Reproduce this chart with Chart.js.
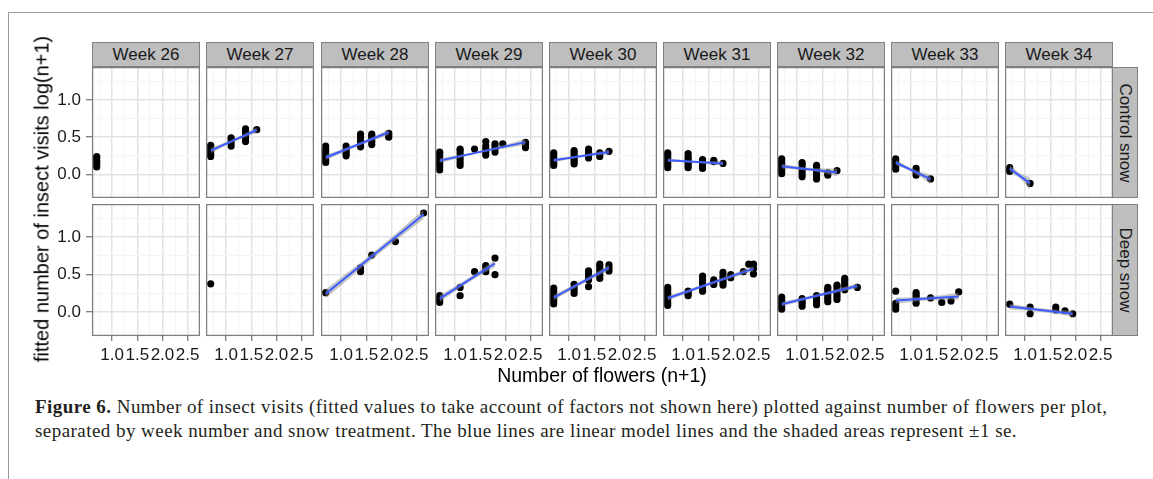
<html>
<head>
<meta charset="utf-8">
<script src="https://cdn.jsdelivr.net/npm/chart.js"></script>
<style>
  body { margin: 0; background: #fff; width: 1153px; height: 479px; overflow: hidden; position: relative; font-family: "Liberation Sans", Arial, sans-serif; }
  .frame { position: absolute; left: 8px; top: 12px; width: 1200px; height: 500px; border-top: 1px solid #999; border-left: 1px solid #999; }
  .box { position: absolute; }
  .strip { position: absolute; background: #bebebe; border: 1px solid #7f7f7f; box-sizing: border-box; font-size: 17px; color: #1a1a1a; display: flex; align-items: center; justify-content: center; }
  .rstrip span { transform: rotate(90deg); white-space: nowrap; }
  .ytitle { position: absolute; left: 42px; top: 199px; transform: translate(-50%, -50%) rotate(-90deg); font-size: 20px; white-space: nowrap; color: #000; }
  .xtitle { position: absolute; left: 602px; top: 375px; transform: translate(-50%, -50%); font-size: 19.5px; white-space: nowrap; color: #000; }
  .cap { position: absolute; left: 35px; font-family: "Liberation Serif", "DejaVu Serif", serif; font-size: 19px; letter-spacing: 0.45px; white-space: nowrap; color: #231f20; }
</style>
</head>
<body>
<div class="frame"></div>
<div id="plots"></div>
<div class="ytitle">fitted number of insect visits log(n+1)</div>
<div class="xtitle">Number of flowers (n+1)</div>
<div class="cap" style="top:396px"><b>Figure 6.</b> Number of insect visits (fitted values to take account of factors not shown here) plotted against number of flowers per plot,</div>
<div class="cap" style="top:420px">separated by week number and snow treatment. The blue lines are linear model lines and the shaded areas represent &plusmn;1 se.</div>

<script>
// facets
var weeks = ['Week 26', 'Week 27', 'Week 28', 'Week 29', 'Week 30', 'Week 31', 'Week 32', 'Week 33', 'Week 34'];
var treatments = ['Control snow', 'Deep snow'];

// axes
var xTicks = [1.0, 1.5, 2.0, 2.5];
var yTicks = [0.0, 0.5, 1.0];
var xGrid = [0.75, 1.0, 1.25, 1.5, 1.75, 2.0, 2.25, 2.5];
var yGrid = [-0.25, 0.0, 0.25, 0.5, 0.75, 1.0, 1.25];
var xRange = [0.6, 2.746];
var yRange = [-0.316, 1.44];

// points per week: [x, [y values at that x]]
var controlPoints = [
  [[0.693, [0.10, 0.13, 0.16, 0.19, 0.22, 0.24]]],
  [[0.693, [0.24, 0.27, 0.30, 0.33, 0.36, 0.39]], [1.099, [0.38, 0.42, 0.46, 0.49]], [1.386, [0.44, 0.48, 0.52, 0.57, 0.61]], [1.609, [0.60]]],
  [[0.693, [0.16, 0.19, 0.22, 0.25, 0.28, 0.31, 0.34, 0.38]], [1.099, [0.25, 0.28, 0.31, 0.34, 0.38]], [1.386, [0.37, 0.41, 0.45, 0.50, 0.54]], [1.609, [0.40, 0.44, 0.48, 0.51, 0.54]], [1.946, [0.50, 0.53, 0.55]]],
  [[0.693, [0.06, 0.10, 0.13, 0.16, 0.19, 0.22, 0.25, 0.28, 0.30]], [1.099, [0.12, 0.16, 0.20, 0.24, 0.28, 0.32, 0.34]], [1.386, [0.34]], [1.609, [0.26, 0.30, 0.34, 0.38, 0.44]], [1.792, [0.30, 0.34, 0.38, 0.41]], [1.946, [0.41]], [2.398, [0.36, 0.40, 0.43]]],
  [[0.693, [0.12, 0.15, 0.18, 0.21, 0.24, 0.27, 0.29]], [1.099, [0.14, 0.17, 0.20, 0.23, 0.26, 0.29, 0.32]], [1.386, [0.22, 0.26, 0.30, 0.34]], [1.609, [0.24, 0.27, 0.29]], [1.792, [0.31]]],
  [[0.693, [0.09, 0.12, 0.15, 0.18, 0.21, 0.24, 0.27, 0.29]], [1.099, [0.09, 0.12, 0.15, 0.18, 0.21, 0.24, 0.28]], [1.386, [0.08, 0.12, 0.16, 0.20]], [1.609, [0.17, 0.19]], [1.792, [0.147]]],
  [[0.693, [0.01, 0.04, 0.07, 0.10, 0.13, 0.16, 0.19, 0.21]], [1.099, [-0.03, 0.01, 0.05, 0.09, 0.13, 0.16]], [1.386, [-0.06, -0.02, 0.02, 0.06, 0.09, 0.12]], [1.609, [-0.01, 0.02]], [1.792, [0.05]]],
  [[0.693, [0.07, 0.10, 0.13, 0.16, 0.19, 0.21]], [1.099, [-0.01, 0.03, 0.08]], [1.386, [-0.06]]],
  [[0.693, [0.04, 0.07, 0.09]], [1.099, [-0.12]]]
];
var deepPoints = [
  [],
  [[0.693, [0.378]]],
  [[0.693, [0.26]], [1.386, [0.54, 0.59]], [1.609, [0.76]], [2.079, [0.94]], [2.639, [1.32]]],
  [[0.693, [0.13, 0.16, 0.19, 0.22]], [1.099, [0.22, 0.33]], [1.386, [0.54]], [1.609, [0.54, 0.58, 0.62]], [1.792, [0.50, 0.72]]],
  [[0.693, [0.11, 0.14, 0.17, 0.20, 0.24, 0.28, 0.32]], [1.099, [0.25, 0.29, 0.33, 0.37]], [1.386, [0.34, 0.43, 0.47, 0.51, 0.55]], [1.609, [0.45, 0.49, 0.53, 0.57, 0.61, 0.64]], [1.792, [0.55, 0.59, 0.63]]],
  [[0.693, [0.09, 0.12, 0.15, 0.18, 0.21, 0.24, 0.27, 0.30, 0.33]], [1.099, [0.22, 0.25, 0.28]], [1.386, [0.28, 0.33, 0.38, 0.43, 0.48]], [1.609, [0.37, 0.40, 0.43]], [1.792, [0.36, 0.40, 0.44, 0.48, 0.53]], [1.946, [0.46, 0.50]], [2.197, [0.54]], [2.303, [0.64]], [2.398, [0.51, 0.58, 0.64]]],
  [[0.693, [0.04, 0.08, 0.12, 0.16, 0.20]], [1.099, [0.08, 0.12, 0.15, 0.18]], [1.386, [0.10, 0.14, 0.18, 0.22]], [1.609, [0.14, 0.18, 0.22, 0.26, 0.30, 0.33]], [1.792, [0.17, 0.21, 0.25, 0.29, 0.33, 0.36]], [1.946, [0.30, 0.34, 0.38, 0.42, 0.45]], [2.197, [0.33]]],
  [[0.693, [0.04, 0.08, 0.12, 0.28]], [1.099, [0.12, 0.16, 0.20, 0.23, 0.26]], [1.386, [0.19]], [1.609, [0.13]], [1.792, [0.15]], [1.946, [0.27]]],
  [[0.693, [0.107]], [1.099, [-0.02, 0.07]], [1.609, [0.03, 0.07]], [1.792, [0.02]], [1.946, [-0.02]]]
];

// linear model lines [x0, y0, x1, y1] and se half-widths [start, middle, end]
var controlFits = [null, [0.693, 0.32, 1.609, 0.595], [0.693, 0.227, 1.946, 0.565], [0.693, 0.185, 2.398, 0.433], [0.693, 0.19, 1.792, 0.30], [0.693, 0.19, 1.792, 0.147], [0.693, 0.11, 1.792, 0.027], [0.693, 0.16, 1.386, -0.063], [0.693, 0.08, 1.099, -0.12]];
var controlSE = [null, [0.035, 0.02, 0.035], [0.035, 0.02, 0.035], [0.03, 0.015, 0.04], [0.025, 0.015, 0.03], [0.025, 0.015, 0.03], [0.03, 0.02, 0.05], [0.035, 0.025, 0.06], [0.045, 0.035, 0.08]];
var deepFits = [null, null, [0.693, 0.245, 2.639, 1.30], [0.693, 0.18, 1.792, 0.65], [0.693, 0.195, 1.792, 0.595], [0.693, 0.187, 2.398, 0.58], [0.693, 0.107, 2.197, 0.35], [0.693, 0.155, 1.946, 0.21], [0.693, 0.075, 1.946, -0.02]];
var deepSE = [null, null, [0.06, 0.04, 0.06], [0.045, 0.03, 0.045], [0.035, 0.025, 0.035], [0.03, 0.02, 0.035], [0.03, 0.02, 0.035], [0.04, 0.025, 0.045], [0.035, 0.025, 0.035]];

var panelLefts = [92, 206, 321, 435, 549, 663, 777, 891, 1005];
var panelW = 108;
var rowTops = [67, 204];
var rowH = [131, 132];
var tickFont = { family: '"Liberation Sans", Arial, sans-serif', size: 17 };

function isMajor(v) { return Math.abs(v * 2 - Math.round(v * 2)) < 1e-6; }

var panelBorder = {
  id: 'panelBorder',
  afterDraw: function(chart) {
    var a = chart.chartArea, ctx = chart.ctx;
    ctx.save();
    ctx.strokeStyle = '#7f7f7f';
    ctx.lineWidth = 1.3;
    ctx.strokeRect(a.left + 0.6, a.top + 0.6, a.right - a.left - 1.2, a.bottom - a.top - 1.2);
    ctx.restore();
  }
};

function buildDatasets(groups, fit, se) {
  var pts = [];
  groups.forEach(function(g) { g[1].forEach(function(y) { pts.push({ x: g[0], y: y }); }); });
  var ds = [];
  if (fit) {
    var xm = (fit[0] + fit[2]) / 2, ym = (fit[1] + fit[3]) / 2;
    ds.push({ type: 'line', data: [{ x: fit[0], y: fit[1] }, { x: fit[2], y: fit[3] }], borderColor: '#3d5cff', borderWidth: 2, pointRadius: 0, fill: false });
    ds.push({ type: 'line', data: [{ x: fit[0], y: fit[1] + se[0] }, { x: xm, y: ym + se[1] }, { x: fit[2], y: fit[3] + se[2] }],
      borderColor: 'rgba(0,0,0,0)', borderWidth: 1, pointRadius: 0, tension: 0.4, fill: { target: 2 }, backgroundColor: 'rgba(140,140,140,0.5)' });
    ds.push({ type: 'line', data: [{ x: fit[0], y: fit[1] - se[0] }, { x: xm, y: ym - se[1] }, { x: fit[2], y: fit[3] - se[2] }],
      borderColor: 'rgba(0,0,0,0)', borderWidth: 1, pointRadius: 0, tension: 0.4, fill: false });
  }
  ds.push({ type: 'scatter', data: pts, pointRadius: 3.6, pointBackgroundColor: '#000', pointBorderWidth: 0, backgroundColor: '#000' });
  return ds;
}

function noPadding(s) {
  s.paddingTop = 0; s.paddingBottom = 0; s.paddingLeft = 0; s.paddingRight = 0;
}

function makePanel(row, col) {
  var padL = col === 0 ? 60 : 0;
  var padB = row === 1 ? 34 : 0;
  var box = document.createElement('div');
  box.className = 'box';
  box.style.left = (panelLefts[col] - padL) + 'px';
  box.style.top = rowTops[row] + 'px';
  var canvas = document.createElement('canvas');
  canvas.width = panelW + padL;
  canvas.height = rowH[row] + padB;
  box.appendChild(canvas);
  document.getElementById('plots').appendChild(box);

  var groups = row === 0 ? controlPoints[col] : deepPoints[col];
  var fit = row === 0 ? controlFits[col] : deepFits[col];
  var se = row === 0 ? controlSE[col] : deepSE[col];

  new Chart(canvas, {
    type: 'scatter',
    data: { datasets: buildDatasets(groups, fit, se) },
    options: {
      responsive: false,
      animation: false,
      layout: { padding: 0, autoPadding: false },
      plugins: { legend: { display: false }, tooltip: { enabled: false }, filler: { propagate: false } },
      scales: {
        x: {
          type: 'linear', min: xRange[0], max: xRange[1],
          afterBuildTicks: function(s) { s.ticks = xGrid.map(function(v) { return { value: v }; }); },
          afterFit: function(s) { s.height = padB; noPadding(s); },
          border: { display: false },
          grid: {
            color: function(c) { return isMajor(c.tick.value) ? '#e3e3e3' : '#f4f4f4'; },
            lineWidth: function(c) { return isMajor(c.tick.value) ? 1.5 : 1; },
            tickColor: function(c) { return isMajor(c.tick.value) ? '#555' : 'rgba(0,0,0,0)'; },
            tickLength: 5, tickWidth: 1, drawTicks: true
          },
          ticks: {
            display: row === 1, autoSkip: false, maxRotation: 0, padding: 4, color: '#1a1a1a', font: tickFont,
            callback: function(v) { return xTicks.indexOf(v) >= 0 ? v.toFixed(1) : ''; }
          }
        },
        y: {
          type: 'linear', min: yRange[0], max: yRange[1],
          afterBuildTicks: function(s) { s.ticks = yGrid.map(function(v) { return { value: v }; }); },
          afterFit: function(s) { s.width = padL; noPadding(s); },
          border: { display: false },
          grid: {
            color: function(c) { return isMajor(c.tick.value) ? '#e3e3e3' : '#f4f4f4'; },
            lineWidth: function(c) { return isMajor(c.tick.value) ? 1.5 : 1; },
            tickColor: function(c) { return isMajor(c.tick.value) ? '#555' : 'rgba(0,0,0,0)'; },
            tickLength: 6, tickWidth: 1, drawTicks: true
          },
          ticks: {
            display: col === 0, autoSkip: false, padding: 5, color: '#1a1a1a', font: tickFont,
            callback: function(v) { return yTicks.indexOf(v) >= 0 ? v.toFixed(1) : ''; }
          }
        }
      }
    },
    plugins: [panelBorder]
  });
}

function makeStrips() {
  var plots = document.getElementById('plots');
  weeks.forEach(function(w, c) {
    var d = document.createElement('div');
    d.className = 'strip';
    d.style.left = panelLefts[c] + 'px';
    d.style.top = '42px';
    d.style.width = panelW + 'px';
    d.style.height = '25px';
    d.textContent = w;
    plots.appendChild(d);
  });
  treatments.forEach(function(t, r) {
    var d = document.createElement('div');
    d.className = 'strip rstrip';
    d.style.left = (panelLefts[8] + panelW - 1) + 'px';
    d.style.top = rowTops[r] + 'px';
    d.style.width = '26px';
    d.style.height = rowH[r] + 'px';
    var s = document.createElement('span');
    s.textContent = t;
    d.appendChild(s);
    plots.appendChild(d);
  });
}

for (var r = 0; r < 2; r++) {
  for (var c = 0; c < 9; c++) makePanel(r, c);
}
makeStrips();
</script>
</body>
</html>
